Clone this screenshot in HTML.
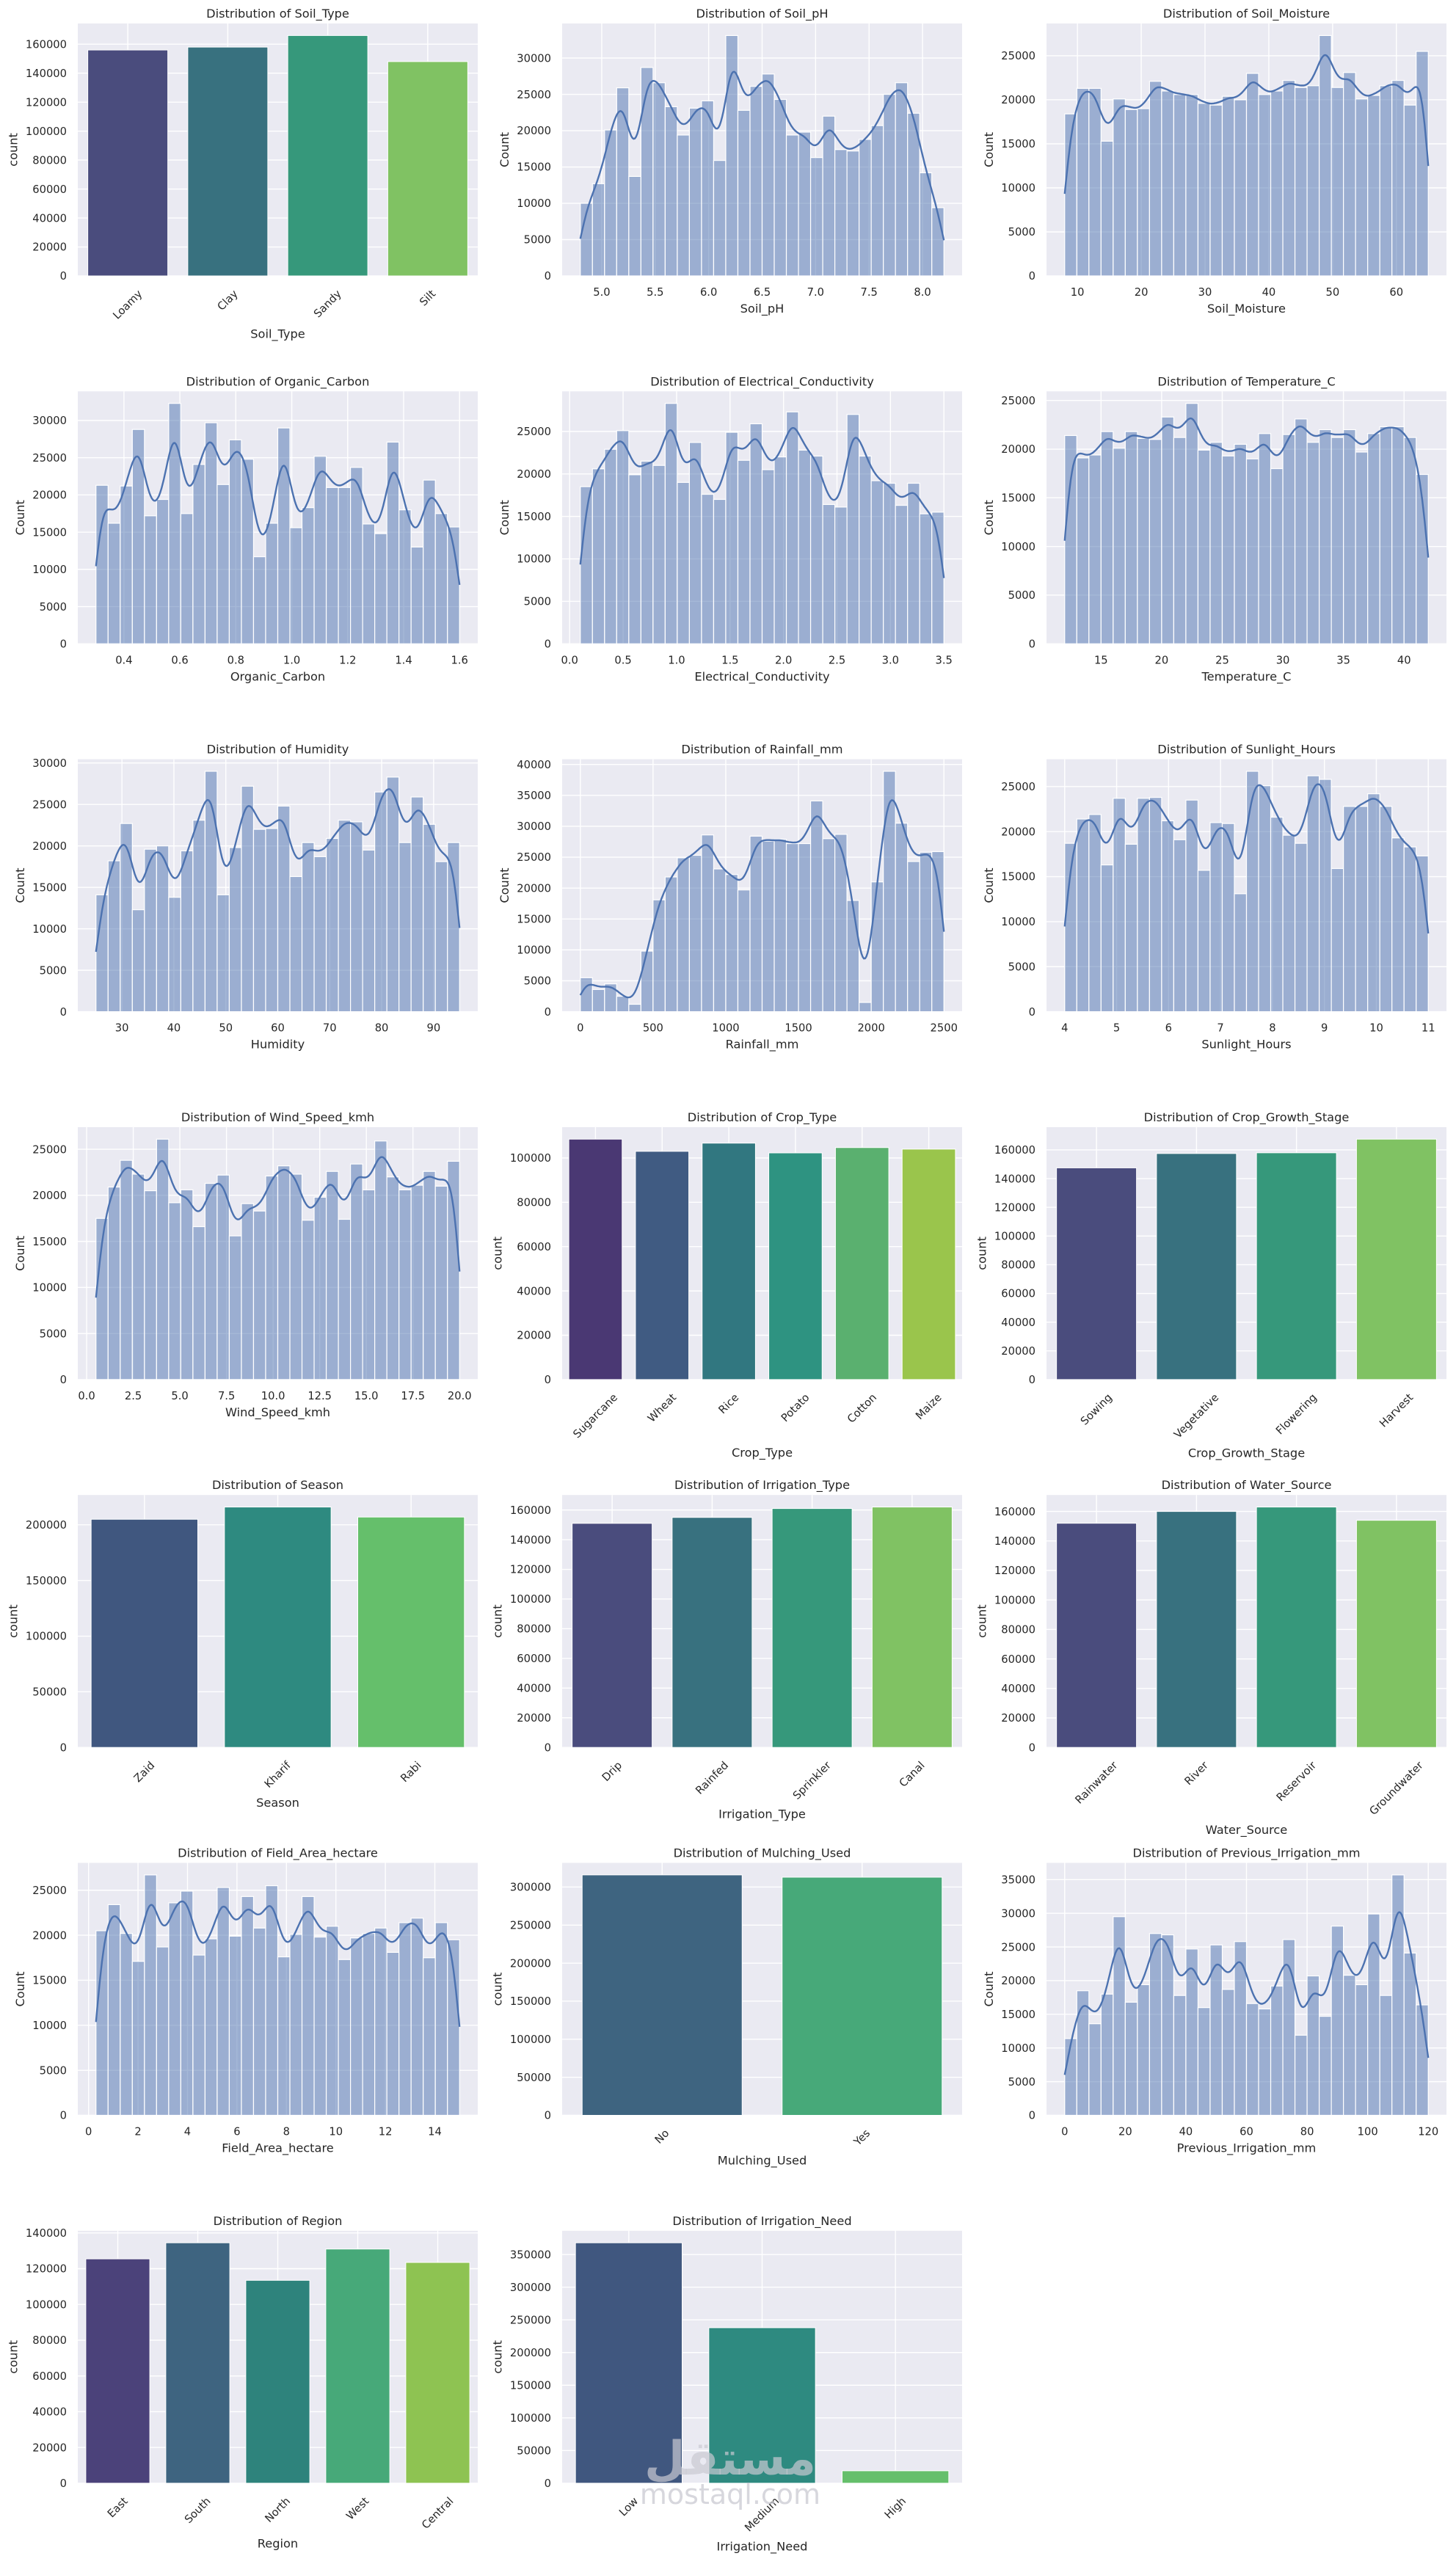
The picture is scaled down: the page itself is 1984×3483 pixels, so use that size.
<!DOCTYPE html>
<html><head><meta charset="utf-8">
<style>
html,body{margin:0;padding:0;background:#fff;}
svg{display:block;font-family:"DejaVu Sans","Liberation Sans",sans-serif;}
</style></head>
<body>
<svg id="fig" width="1984" height="3483" viewBox="0 0 1984 3483" xmlns="http://www.w3.org/2000/svg">
<rect x="0" y="0" width="1984" height="3483" fill="#ffffff"/>
</svg>
<script>
// ---------- data ----------
const soilTypeCats = ["Loamy","Clay","Sandy","Silt"];
const soilTypeCounts = [156000,158000,166000,148000];
const soilTypeTicks = [0,20000,40000,60000,80000,100000,120000,140000,160000];

const soilPhRange = [4.8, 8.2];
const soilPhCounts = [10000,12700,20100,25900,13700,28700,26600,23300,19400,23100,24100,15900,33100,22800,26100,27800,24300,19400,19800,16300,22000,17400,17200,18800,20700,25000,26600,22400,14200,9400];
const soilPhXTicks = ["5.0","5.5","6.0","6.5","7.0","7.5","8.0"];
const soilPhYTicks = [0,5000,10000,15000,20000,25000,30000];

const moistRange = [8, 65];
const moistCounts = [18400,21300,21300,15300,20100,18900,19000,22100,21000,20600,20600,19600,19400,20400,20000,23000,20600,21000,22200,21400,21600,27300,21400,23100,20100,20500,21600,22200,19400,25500];
const moistXTicks = ["10","20","30","40","50","60"];
const moistYTicks = [0,5000,10000,15000,20000,25000];

const ocRange = [0.3, 1.6];
const ocCounts = [21300,16200,21200,28800,17200,19400,32300,17500,24100,29700,21400,27400,24800,11700,16200,29000,15600,18300,25200,21000,21000,23700,16100,14800,27100,18000,13000,22000,17500,15700];
const ocXTicks = ["0.4","0.6","0.8","1.0","1.2","1.4","1.6"];
const ocYTicks = [0,5000,10000,15000,20000,25000,30000];

const ecRange = [0.1, 3.5];
const ecCounts = [18500,20600,22900,25100,19900,21500,21000,28300,19000,23700,17600,17000,24900,21600,25900,20500,22000,27300,22800,22100,16400,16100,27000,22100,19200,18900,16300,18900,15300,15500];
const ecXTicks = ["0.0","0.5","1.0","1.5","2.0","2.5","3.0","3.5"];
const ecYTicks = [0,5000,10000,15000,20000,25000];

const tempRange = [12, 42];
const tempCounts = [21400,19100,19400,21800,20100,21800,21100,21000,23300,21200,24700,19900,20700,19300,20500,19000,21600,18000,21500,23100,20700,22000,21200,22000,19700,21600,22300,22300,21200,17400];
const tempXTicks = ["15","20","25","30","35","40"];
const tempYTicks = [0,5000,10000,15000,20000,25000];

const humRange = [25, 95];
const humCounts = [14100,18200,22700,12300,19600,20000,13800,19400,23100,29000,14100,19800,27200,22000,22100,24800,16300,20400,18700,20900,23100,22900,19500,26500,28300,20400,25900,22600,18100,20400];
const humXTicks = ["30","40","50","60","70","80","90"];
const humYTicks = [0,5000,10000,15000,20000,25000,30000];

const rainRange = [0, 2500];
const rainCounts = [5500,3600,4500,2500,1200,9800,18100,21800,24900,25300,28600,23100,22200,19700,28400,27600,27900,27200,27200,34100,28000,28700,18000,1500,21000,38900,30500,24300,25800,25900];
const rainXTicks = ["0","500","1000","1500","2000","2500"];
const rainYTicks = [0,5000,10000,15000,20000,25000,30000,35000,40000];

const sunRange = [4, 11];
const sunCounts = [18700,21400,21900,16300,23700,18600,23700,23800,21200,19100,23500,15700,21000,20900,13100,26700,25100,21600,19600,18700,26200,25800,15900,22800,22800,24200,22800,19300,18300,17300];
const sunXTicks = ["4","5","6","7","8","9","10","11"];
const sunYTicks = [0,5000,10000,15000,20000,25000];

const windRange = [0.5, 20];
const windCounts = [17500,20900,23800,22300,20500,26100,19200,20600,16600,21300,22200,15600,19100,18300,22100,23200,22300,17300,19800,22600,17400,23400,20600,25900,22000,20600,21100,22600,21000,23700];
const windXTicks = ["0.0","2.5","5.0","7.5","10.0","12.5","15.0","17.5","20.0"];
const windYTicks = [0,5000,10000,15000,20000,25000];

const cropTypeCats = ["Sugarcane","Wheat","Rice","Potato","Cotton","Maize"];
const cropTypeCounts = [108500,103000,106700,102300,104700,104000];
const cropTypeTicks = [0,20000,40000,60000,80000,100000];

const growthCats = ["Sowing","Vegetative","Flowering","Harvest"];
const growthCounts = [147500,157500,158000,167500];
const growthTicks = [0,20000,40000,60000,80000,100000,120000,140000,160000];

const seasonCats = ["Zaid","Kharif","Rabi"];
const seasonCounts = [205000,216000,207000];
const seasonTicks = [0,50000,100000,150000,200000];

const irrTypeCats = ["Drip","Rainfed","Sprinkler","Canal"];
const irrTypeCounts = [151000,155000,161000,162000];
const irrTypeTicks = [0,20000,40000,60000,80000,100000,120000,140000,160000];

const waterCats = ["Rainwater","River","Reservoir","Groundwater"];
const waterCounts = [152000,160000,163000,154000];
const waterTicks = [0,20000,40000,60000,80000,100000,120000,140000,160000];

const fieldRange = [0.3, 15];
const fieldCounts = [20500,23400,20200,17100,26700,18700,23600,24900,17800,19600,25300,19900,24300,20800,25500,17600,20100,24300,19800,21000,17300,19700,20200,20800,18100,21400,21900,17500,21400,19500];
const fieldXTicks = ["0","2","4","6","8","10","12","14"];
const fieldYTicks = [0,5000,10000,15000,20000,25000];

const mulchCats = ["No","Yes"];
const mulchCounts = [316000,313000];
const mulchTicks = [0,50000,100000,150000,200000,250000,300000];

const prevRange = [0, 120];
const prevCounts = [11400,18500,13600,18000,29500,16800,19400,27000,26800,17800,24700,16000,25300,18700,25800,16600,15800,19200,26100,11900,20700,14700,28100,20800,19400,29900,17800,35700,24100,16400];
const prevXTicks = ["0","20","40","60","80","100","120"];
const prevYTicks = [0,5000,10000,15000,20000,25000,30000,35000];

const regionCats = ["East","South","North","West","Central"];
const regionCounts = [125500,134500,113500,131000,123500];
const regionTicks = [0,20000,40000,60000,80000,100000,120000,140000];

const needCats = ["Low","Medium","High"];
const needCounts = [368000,238000,19000];
const needTicks = [0,50000,100000,150000,200000,250000,300000,350000];

const pal = {
  2:["#3e6480","#47a979"],
  3:["#40577f","#2e8a80","#65bf6b"],
  4:["#4a4c7d","#38717f","#36987b","#80c263"],
  5:["#4b427a","#3e6480","#2e837c","#47a979","#8ec352"],
  6:["#4a3873","#405b82","#317780","#2e9381","#5ab06f","#9ac54c"]
};

// ---------- layout ----------
const NS="http://www.w3.org/2000/svg";
const svg=document.getElementById("fig");
const L0=106, AW=545, PX=660, T0=32, AH=344, PY=501.3;
const TXT="#262626";

function mk(tag, attrs, parent){
  const e=document.createElementNS(NS,tag);
  for(const k in attrs) e.setAttribute(k, attrs[k]);
  (parent||svg).appendChild(e);
  return e;
}
function txt(parent, s, x, y, size, anchor){
  const t=mk("text",{x:x,y:y,"font-size":size,"text-anchor":anchor||"middle",fill:TXT},parent);
  t.textContent=s;
  return t;
}

function frame(row,col,name,title,ylabel,yticks,ymax){
  const x0=L0+col*PX, y0=T0+row*PY;
  const g=mk("g",{});
  
  
  const bg=mk("rect",{x:x0,y:y0,width:AW,height:AH,fill:"#eaeaf2"},g);
  
  
  const ys=v=>y0+AH-v/ymax*AH;
  const grid=mk("g",{},g);
  
  
  let maxw=0;
  const tg=mk("g",{},g);
  
  
  yticks.forEach(v=>{
    const y=ys(v);
    mk("line",{x1:x0,x2:x0+AW,y1:y,y2:y,stroke:"#fff","stroke-width":1.4},grid);
    const t=txt(tg,String(v),x0-15,y+5.2,14.7,"end");
    
    
    maxw=Math.max(maxw,t.getComputedTextLength());
  });
  const tt=txt(g,title,x0+AW/2,y0-8,16.2);
  
  
  const lx=x0-15-maxw-17;
  const yl=txt(g,ylabel,lx,y0+AH/2,16.2);
  yl.setAttribute("transform",`rotate(-90 ${lx} ${y0+AH/2})`);
  yl.setAttribute("dominant-baseline","central");
  
  
  return {g,x0,y0,ys,grid};
}

function hist(row,col,name,range,counts,xticks,yticks){
  const mx=Math.max(...counts)*1.05;
  const f=frame(row,col,name,"Distribution of "+name,"Count",yticks,mx);
  const span=range[1]-range[0];
  const lo=range[0]-0.05*span, hi=range[1]+0.05*span;
  const xs=v=>f.x0+(v-lo)/(hi-lo)*AW;
  xticks.forEach(s=>{
    const x=xs(parseFloat(s));
    mk("line",{x1:x,x2:x,y1:f.y0,y2:f.y0+AH,stroke:"#fff","stroke-width":1.4},f.grid);
    const t=txt(f.g,s,x,f.y0+AH+27,14.7);
    
    
  });
  const n=counts.length, bw=span/n;
  const bars=mk("g",{},f.g);
  
  
  counts.forEach((c,i)=>{
    const xa=xs(range[0]+i*bw), xb=xs(range[0]+(i+1)*bw);
    const r=mk("rect",{x:xa,y:f.ys(c),width:xb-xa,height:f.y0+AH-f.ys(c),fill:"#4c72b0","fill-opacity":0.5,stroke:"#fff","stroke-width":1.2},bars);
    
    
  });
  // KDE-like smooth line derived from bin counts
  const sig=0.65, norm=Math.sqrt(2*Math.PI)*sig;
  let d="";
  for(let k=0;k<=300;k++){
    const u=k/300*n; // position in bins
    let s=0;
    counts.forEach((c,i)=>{const z=(u-(i+0.5))/sig; s+=c*Math.exp(-0.5*z*z);});
    s/=norm;
    const x=xs(range[0]+u*bw), y=f.ys(s);
    d+=(k?"L":"M")+x.toFixed(1)+" "+y.toFixed(1);
  }
  const p=mk("path",{d:d,fill:"none",stroke:"#4c72b0","stroke-width":2.4},f.g);
  
  
  const xl=txt(f.g,name,f.x0+AW/2,f.y0+AH+50,16.2);
  
  
}

function countplot(row,col,name,cats,counts,yticks){
  const mx=Math.max(...counts)*1.05;
  const f=frame(row,col,name,"Distribution of "+name,"count",yticks,mx);
  const n=cats.length, slot=AW/n, colors=pal[n];
  let maxbb=0;
  cats.forEach((c,i)=>{
    const cx=f.x0+(i+0.5)*slot;
    mk("line",{x1:cx,x2:cx,y1:f.y0,y2:f.y0+AH,stroke:"#fff","stroke-width":1.4},f.grid);
    const r=mk("rect",{x:f.x0+(i+0.1)*slot,y:f.ys(counts[i]),width:0.8*slot,height:f.y0+AH-f.ys(counts[i]),fill:colors[i],stroke:"#fff","stroke-width":1},f.g);
    
    
  });
  cats.forEach((c,i)=>{
    const cx=f.x0+(i+0.5)*slot;
    const t=txt(f.g,c,cx,0,14.7);
    const w=t.getComputedTextLength();
    const bb=(w+17)/Math.SQRT2;
    maxbb=Math.max(maxbb,bb);
    const cy=f.y0+AH+16+bb/2;
    t.setAttribute("y",cy);
    t.setAttribute("dominant-baseline","central");
    t.setAttribute("transform",`rotate(-45 ${cx} ${cy})`);
    
    
  });
  const xl=txt(f.g,name,f.x0+AW/2,f.y0+AH+16+maxbb+22,16.2);
  
  
}

countplot(0,0,"Soil_Type",soilTypeCats,soilTypeCounts,soilTypeTicks);
hist(0,1,"Soil_pH",soilPhRange,soilPhCounts,soilPhXTicks,soilPhYTicks);
hist(0,2,"Soil_Moisture",moistRange,moistCounts,moistXTicks,moistYTicks);
hist(1,0,"Organic_Carbon",ocRange,ocCounts,ocXTicks,ocYTicks);
hist(1,1,"Electrical_Conductivity",ecRange,ecCounts,ecXTicks,ecYTicks);
hist(1,2,"Temperature_C",tempRange,tempCounts,tempXTicks,tempYTicks);
hist(2,0,"Humidity",humRange,humCounts,humXTicks,humYTicks);
hist(2,1,"Rainfall_mm",rainRange,rainCounts,rainXTicks,rainYTicks);
hist(2,2,"Sunlight_Hours",sunRange,sunCounts,sunXTicks,sunYTicks);
hist(3,0,"Wind_Speed_kmh",windRange,windCounts,windXTicks,windYTicks);
countplot(3,1,"Crop_Type",cropTypeCats,cropTypeCounts,cropTypeTicks);
countplot(3,2,"Crop_Growth_Stage",growthCats,growthCounts,growthTicks);
countplot(4,0,"Season",seasonCats,seasonCounts,seasonTicks);
countplot(4,1,"Irrigation_Type",irrTypeCats,irrTypeCounts,irrTypeTicks);
countplot(4,2,"Water_Source",waterCats,waterCounts,waterTicks);
hist(5,0,"Field_Area_hectare",fieldRange,fieldCounts,fieldXTicks,fieldYTicks);
countplot(5,1,"Mulching_Used",mulchCats,mulchCounts,mulchTicks);
hist(5,2,"Previous_Irrigation_mm",prevRange,prevCounts,prevXTicks,prevYTicks);
countplot(6,0,"Region",regionCats,regionCounts,regionTicks);
countplot(6,1,"Irrigation_Need",needCats,needCounts,needTicks);

// watermark
const wm1=mk("text",{x:995,y:3372,"font-size":64,"text-anchor":"middle",fill:"#c9c9d2","fill-opacity":0.7,"font-family":"\"DejaVu Sans\",\"Noto Sans CJK SC\",sans-serif","font-weight":"bold"});
wm1.textContent="مستقل";


const wm2=mk("text",{x:995,y:3412,"font-size":38,"text-anchor":"middle",fill:"#c9c9d2","fill-opacity":0.75});
wm2.textContent="mostaql.com";


</script>
</body></html>
